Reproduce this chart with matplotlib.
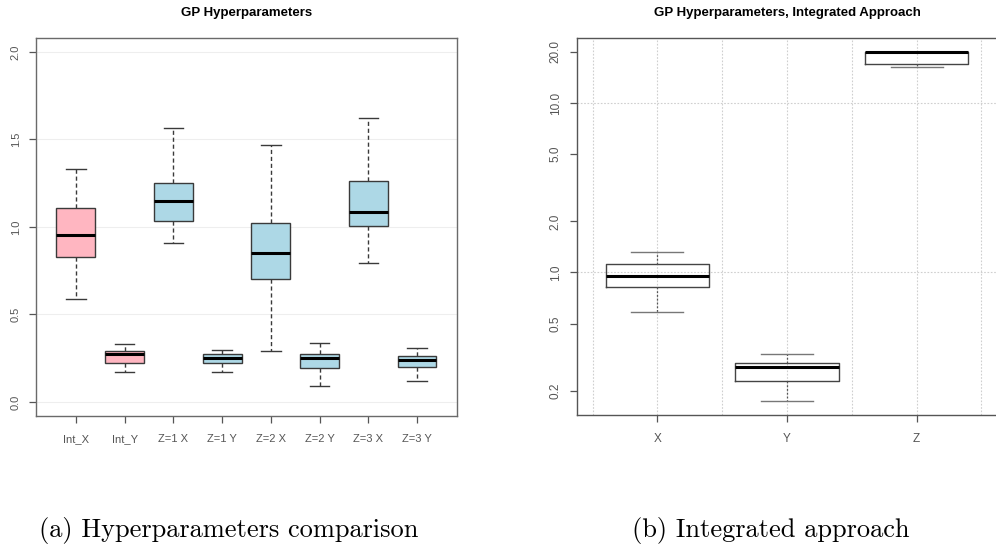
import numpy as np
import matplotlib.pyplot as plt

# Box summaries (lower whisker, Q1, median, Q3, upper whisker)
comp_labels = ["Int_X", "Int_Y", "Z=1 X", "Z=1 Y", "Z=2 X", "Z=2 Y", "Z=3 X", "Z=3 Y"]
comp_whislo = [0.586, 0.172, 0.908, 0.172, 0.293, 0.092, 0.793, 0.121]
comp_q1     = [0.828, 0.224, 1.034, 0.224, 0.701, 0.195, 1.006, 0.201]
comp_med    = [0.954, 0.276, 1.149, 0.253, 0.851, 0.253, 1.086, 0.241]
comp_q3     = [1.110, 0.293, 1.253, 0.276, 1.023, 0.276, 1.264, 0.264]
comp_whishi = [1.333, 0.333, 1.563, 0.299, 1.466, 0.339, 1.621, 0.310]
comp_fill   = ["#ffb6c1", "#ffb6c1", "#add8e6", "#add8e6",
               "#add8e6", "#add8e6", "#add8e6", "#add8e6"]

int_labels = ["X", "Y", "Z"]
int_whislo = [0.585, 0.174, 16.3]
int_q1     = [0.822, 0.229, 17.0]
int_med    = [0.953, 0.277, 20.0]
int_q3     = [1.123, 0.292, 20.0]
int_whishi = [1.321, 0.330, 20.0]

captions = ["(a) Hyperparameters comparison", "(b) Integrated approach"]


def make_stats(labels, lo, q1, med, q3, hi):
    return [dict(label=l, whislo=a, q1=b, med=c, q3=d, whishi=e, fliers=[])
            for l, a, b, c, d, e in zip(labels, lo, q1, med, q3, hi)]


def r_style(ax, frame="#555555"):
    for s in ax.spines.values():
        s.set_color(frame)
        s.set_linewidth(1.0)
    ax.tick_params(length=5, width=0.9, color="#555555", labelcolor="#555555",
                   labelsize=8)
    for lab in ax.get_yticklabels():
        lab.set_rotation(90)
        lab.set_va("center")


fig = plt.figure(figsize=(9.96, 5.49), dpi=100)
plt.rcParams["font.family"] = ["Liberation Sans", "DejaVu Sans"]

# ---------------- (a) comparison of hyperparameters ----------------
ax1 = fig.add_axes([0.0361, 0.2423, 0.4227, 0.6885])
pos1 = np.arange(1, len(comp_labels) + 1)
bp = ax1.bxp(make_stats(comp_labels, comp_whislo, comp_q1, comp_med, comp_q3, comp_whishi),
             positions=pos1, widths=0.8, patch_artist=True, showfliers=False,
             boxprops=dict(edgecolor="#3a3a3a", linewidth=1.0),
             medianprops=dict(color="black", linewidth=2.2, solid_capstyle="butt"),
             whiskerprops=dict(color="#3a3a3a", linestyle=(0, (3, 2)), linewidth=1.0),
             capprops=dict(color="#3a3a3a", linewidth=1.0))
for patch, c in zip(bp["boxes"], comp_fill):
    patch.set_facecolor(c)
ax1.set_xlim(0.18, 8.82)
ax1.set_ylim(-0.08, 2.08)
ax1.set_yticks([0.0, 0.5, 1.0, 1.5, 2.0])
ax1.set_yticklabels(["0.0", "0.5", "1.0", "1.5", "2.0"])
ax1.set_xticks(pos1)
ax1.set_xticklabels(comp_labels)
ax1.yaxis.grid(True, color="#eeeeee", linewidth=0.8)
ax1.set_axisbelow(True)
r_style(ax1, frame="#6a6a6a")
ax1.tick_params(axis="x", pad=8)
ax1.tick_params(axis="y", pad=6)
ax1.set_title("GP Hyperparameters", fontsize=9.5, fontweight="bold", pad=16)

# ---------------- (b) integrated approach, log scale ----------------
ax2 = fig.add_axes([0.5793, 0.2441, 0.4217, 0.6867])
pos2 = np.arange(1, len(int_labels) + 1)
ax2.bxp(make_stats(int_labels, int_whislo, int_q1, int_med, int_q3, int_whishi),
        positions=pos2, widths=0.8, showfliers=False,
        boxprops=dict(color="#444444", linewidth=1.0),
        medianprops=dict(color="black", linewidth=2.2, solid_capstyle="butt"),
        whiskerprops=dict(color="#555555", linestyle=(0, (1.5, 1.5)), linewidth=0.9),
        capprops=dict(color="#777777", linewidth=1.0))
ax2.set_yscale("log")
ax2.set_ylim(0.1443, 24.19)
ax2.set_xlim(0.38, 3.62)
ax2.minorticks_off()
ax2.set_yticks([0.2, 0.5, 1.0, 2.0, 5.0, 10.0, 20.0])
ax2.set_yticklabels(["0.2", "0.5", "1.0", "2.0", "5.0", "10.0", "20.0"])
ax2.set_xticks(pos2)
ax2.set_xticklabels(int_labels)
for gx in np.arange(0.5, 3.6, 0.5):
    ax2.axvline(gx, color="#cfcfcf", linestyle=(0, (1.5, 1.5)), linewidth=0.8, zorder=0)
for gy in [0.1, 1.0, 10.0, 100.0]:
    ax2.axhline(gy, color="#cfcfcf", linestyle=(0, (1.5, 1.5)), linewidth=0.8, zorder=0)
r_style(ax2, frame="#555555")
ax2.tick_params(labelsize=8.5)
ax2.tick_params(axis="x", pad=8)
ax2.tick_params(axis="y", pad=6)
ax2.set_title("GP Hyperparameters, Integrated Approach", fontsize=9.5,
              fontweight="bold", pad=16)

# sub-figure captions
fig.text(229 / 996, 1 - 530 / 549, captions[0], family="cmr10", fontsize=19,
         ha="center", va="center")
fig.text(771 / 996, 1 - 530 / 549, captions[1], family="cmr10", fontsize=19,
         ha="center", va="center")

fig.savefig("out.png", dpi=100)
